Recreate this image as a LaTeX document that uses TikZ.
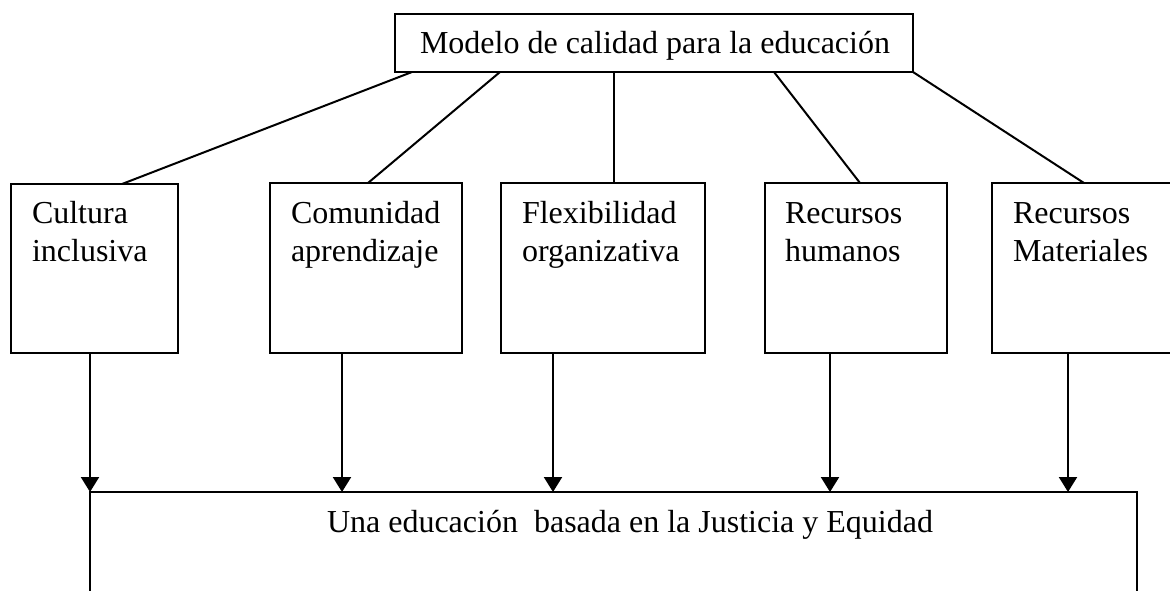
\documentclass[tikz,border=0pt]{standalone}
\usepackage{fontspec}
\setmainfont{Liberation Serif}
\usetikzlibrary{calc,arrows.meta}
\begin{document}
\begin{tikzpicture}[x=1pt,y=-1pt,
  box/.style={draw=black,line width=2.2pt,inner sep=0pt,outer sep=0pt,rectangle},
  lbl/.style={inner sep=0pt,outer sep=0pt,anchor=base west,font=\fontsize{32}{38}\selectfont},
  link/.style={draw=black,line width=2pt},
  arr/.style={draw=black,line width=2.2pt,-{Triangle[width=18pt,length=15pt]}}]
\useasboundingbox (0,0) rectangle (1170,590);
\clip (0,0) rectangle (1170,590);
% boxes
\node[box,minimum width=518pt,minimum height=58pt] (top) at (654,43) {};
\node[box,minimum width=167pt,minimum height=169pt] (c1) at (94.5,268.5) {};
\node[box,minimum width=192pt,minimum height=170pt] (c2) at (366,268) {};
\node[box,minimum width=204pt,minimum height=170pt] (c3) at (603,268) {};
\node[box,minimum width=182pt,minimum height=170pt] (c4) at (856,268) {};
\node[box,minimum width=208pt,minimum height=170pt] (c5) at (1096,268) {};
\node[box,minimum width=1047pt,minimum height=160pt] (bot) at (613.5,572) {};
% texts
\node[lbl] (toptext) at (420,53) {Modelo de calidad para la educación};
\node[lbl] (t1) at ($(c1.north west)+(21,39)$) {\begin{tabular}[t]{@{}l@{}}Cultura\\inclusiva\end{tabular}};
\node[lbl] (t2) at ($(c2.north west)+(21,40)$) {\begin{tabular}[t]{@{}l@{}}Comunidad\\aprendizaje\end{tabular}};
\node[lbl] (t3) at ($(c3.north west)+(21,40)$) {\begin{tabular}[t]{@{}l@{}}Flexibilidad\\organizativa\end{tabular}};
\node[lbl] (t4) at ($(c4.north west)+(20,40)$) {\begin{tabular}[t]{@{}l@{}}Recursos\\humanos\end{tabular}};
\node[lbl] (t5) at ($(c5.north west)+(21,40)$) {\begin{tabular}[t]{@{}l@{}}Recursos\\Materiales\end{tabular}};
\node[lbl] (bottext) at (327,532) {Una educación~ basada en la Justicia y Equidad};
% links from top box
\draw[link] ($(top.south west)+(17,0)$) -- ($(c1.north west)+(111,0)$);
\draw[link] ($(top.south west)+(105,0)$) -- ($(c2.north west)+(98,0)$);
\draw[link] ($(top.south west)+(219,0)$) -- ($(c3.north west)+(113,0)$);
\draw[link] ($(top.south west)+(379,0)$) -- ($(c4.north west)+(95,0)$);
\draw[link] (top.south east) -- ($(c5.north west)+(92,0)$);
% arrows to bottom box
\coordinate (a1) at ($(c1.south west)+(79,0)$);
\coordinate (a2) at ($(c2.south west)+(72,0)$);
\coordinate (a3) at ($(c3.south west)+(52,0)$);
\coordinate (a4) at ($(c4.south west)+(65,0)$);
\coordinate (a5) at ($(c5.south west)+(76,0)$);
\foreach \a in {a1,a2,a3,a4,a5} {
  \draw[arr] (\a) -- (\a |- bot.north);
}
\end{tikzpicture}
\end{document}
